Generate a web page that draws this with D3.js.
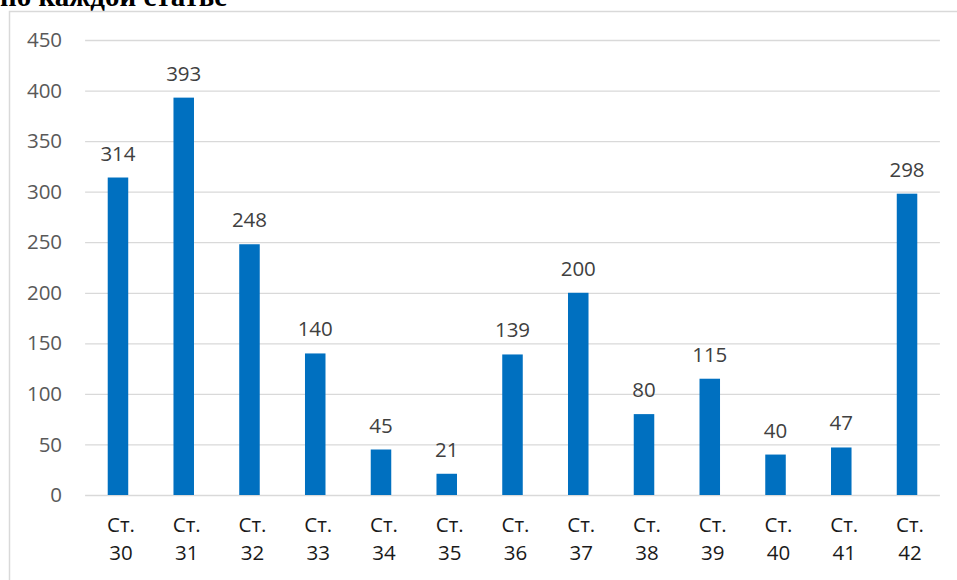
<!DOCTYPE html>
<html>
<head>
<meta charset="utf-8">
<script src="https://cdn.jsdelivr.net/npm/d3@7"></script>
<style>
  html, body { margin: 0; padding: 0; background: #fff; overflow: hidden; }
  svg { display: block; }
</style>
</head>
<body>
<script>
// Chart data
const categories = ["Ст. 30", "Ст. 31", "Ст. 32", "Ст. 33", "Ст. 34", "Ст. 35", "Ст. 36",
                    "Ст. 37", "Ст. 38", "Ст. 39", "Ст. 40", "Ст. 41", "Ст. 42"];
const values = [314, 393, 248, 140, 45, 21, 139, 200, 80, 115, 40, 47, 298];
const yTicks = [0, 50, 100, 150, 200, 250, 300, 350, 400, 450];
const titleText = "по каждой статье";

const W = 957, H = 580;
const svg = d3.select("body").append("svg").attr("width", W).attr("height", H);

// Heading text (partly cut by the top edge)
svg.append("text")
  .attr("x", 0).attr("y", 6)
  .attr("font-family", "'Liberation Serif', 'Times New Roman', serif")
  .attr("font-weight", "bold")
  .attr("font-size", 29)
  .attr("fill", "#000")
  .text(titleText);

// Chart frame
svg.append("rect")
  .attr("x", 9.5).attr("y", 11.5)
  .attr("width", W + 20).attr("height", H + 20)
  .attr("fill", "#fff")
  .attr("stroke", "#d9d9d9").attr("stroke-width", 1.5);

const plot = { left: 85.1, right: 939.9, top: 40, bottom: 495 };

const x = d3.scaleBand()
  .domain(categories)
  .range([plot.left, plot.right])
  .paddingInner(0.688)
  .paddingOuter(0.344);

const y = d3.scaleLinear()
  .domain([0, 450])
  .range([plot.bottom, plot.top]);

const font = "'Open Sans', 'Noto Sans', sans-serif";

// Gridlines and y-axis labels
const yAxis = d3.axisLeft(y)
  .tickValues(yTicks)
  .tickSize(-(plot.right - plot.left))
  .tickPadding(23);

const gy = svg.append("g")
  .attr("transform", `translate(${plot.left},0)`)
  .call(yAxis);
gy.select(".domain").remove();
gy.selectAll(".tick line").attr("stroke", "#d9d9d9").attr("stroke-width", 1.3);
gy.selectAll(".tick text")
  .attr("font-family", font)
  .attr("font-size", 20.5)
  .attr("fill", "#595959");

// Bars
svg.append("g").selectAll("rect")
  .data(values)
  .join("rect")
  .attr("x", (d, i) => x(categories[i]))
  .attr("y", d => y(d))
  .attr("width", x.bandwidth())
  .attr("height", d => y(0) - y(d))
  .attr("fill", "#0070c0");

// Value labels
svg.append("g").selectAll("text")
  .data(values)
  .join("text")
  .attr("x", (d, i) => x(categories[i]) + x.bandwidth() / 2)
  .attr("y", d => y(d) - 17)
  .attr("text-anchor", "middle")
  .attr("font-family", font)
  .attr("font-size", 20.5)
  .attr("fill", "#404040")
  .text(d => d);

// Category labels, wrapped onto two lines
const xAxis = d3.axisBottom(x).tickSize(0).tickPadding(0);
const gx = svg.append("g")
  .attr("transform", `translate(0,${plot.bottom})`)
  .call(xAxis);
gx.select(".domain").remove();
gx.selectAll(".tick text").each(function(d) {
  const t = d3.select(this);
  const parts = d.split(" ");
  t.text(null)
    .attr("y", 0).attr("dy", null)
    .attr("font-family", font)
    .attr("font-size", 20.5)
    .attr("fill", "#1a1a1a");
  parts.forEach((p, k) => {
    t.append("tspan").attr("x", 3).attr("y", 37 + k * 28).text(p);
  });
});
</script>
</body>
</html>
